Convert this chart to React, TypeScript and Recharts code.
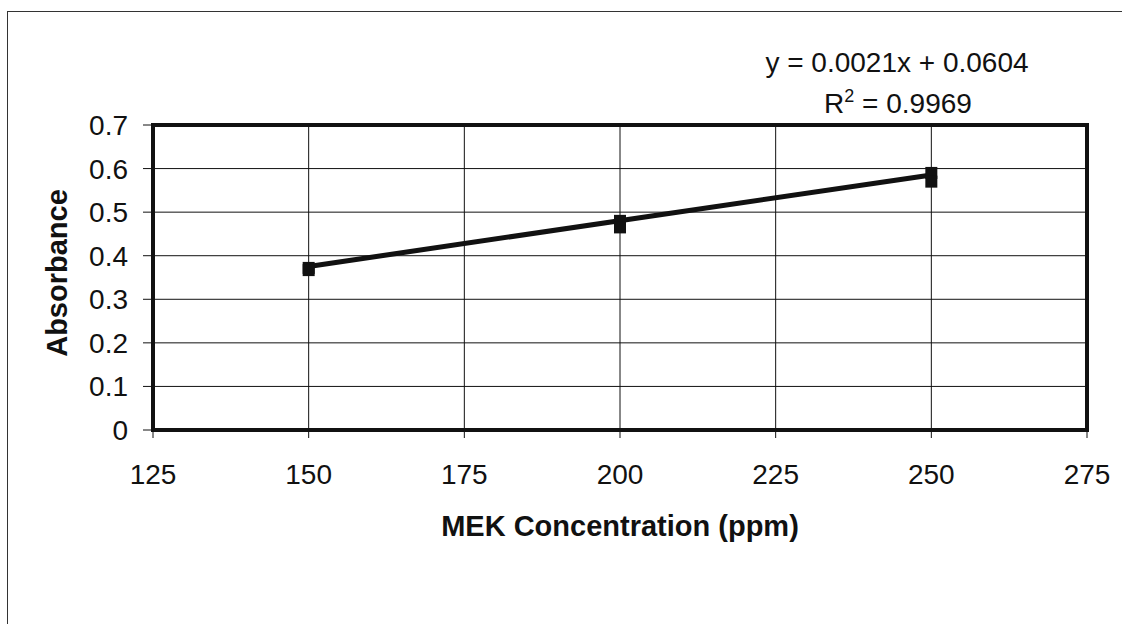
import {
  CartesianGrid,
  ReferenceArea,
  Scatter,
  ScatterChart,
  XAxis,
  YAxis,
} from "recharts";

// MEK 표준 검량선 — 농도(ppm)별 흡광도, 각 농도 2회 측정
const CONCENTRATION = [150, 150, 200, 200, 250, 250];
const ABSORBANCE = [0.372, 0.367, 0.48, 0.465, 0.59, 0.57];

// 선형 회귀 결과 (y = 0.0021x + 0.0604, R² = 0.9969)
const SLOPE = 0.0021;
const INTERCEPT = 0.0604;
const R_SQUARED = "0.9969";
const TREND_RANGE = [150, 250];

const X_TICKS = [125, 150, 175, 200, 225, 250, 275];
const Y_TICKS = [0, 0.1, 0.2, 0.3, 0.4, 0.5, 0.6, 0.7];

const FONT = "'Liberation Sans', Arial, sans-serif";
const INK = "#111";

const points = CONCENTRATION.map((x, i) => ({ x, y: ABSORBANCE[i] }));
const trend = TREND_RANGE.map((x) => ({ x, y: SLOPE * x + INTERCEPT }));

function SquareMarker(props: { cx?: number; cy?: number }) {
  const { cx = 0, cy = 0 } = props;
  return <rect x={cx - 6} y={cy - 6} width={12} height={12} fill={INK} />;
}

export default function App() {
  return (
    <div
      style={{
        position: "fixed",
        left: 0,
        top: 0,
        width: 1122,
        height: 624,
        overflow: "hidden",
        background: "#fff",
        fontFamily: FONT,
      }}
    >
      {/* 차트 바깥 테두리 */}
      <div
        style={{
          position: "absolute",
          left: 7,
          top: 11,
          width: 1140,
          height: 640,
          border: "1px solid #333",
        }}
      />
      <ScatterChart
        width={1122}
        height={624}
        margin={{ top: 125, right: 35, bottom: 134, left: 93 }}
        style={{ position: "absolute", left: 0, top: 0 }}
      >
        <CartesianGrid stroke={INK} strokeWidth={1} />
        <XAxis
          type="number"
          dataKey="x"
          domain={[125, 275]}
          ticks={X_TICKS}
          height={60}
          axisLine={false}
          tickSize={8}
          tickMargin={26}
          tickLine={{ stroke: INK }}
          tick={{ fontSize: 28, fill: INK, fontFamily: FONT }}
          interval={0}
        />
        <YAxis
          type="number"
          dataKey="y"
          domain={[0, 0.7]}
          ticks={Y_TICKS}
          width={60}
          axisLine={false}
          tickSize={10}
          tickMargin={15}
          tickLine={{ stroke: INK }}
          tick={{ fontSize: 28, fill: INK, fontFamily: FONT }}
          interval={0}
        />
        <ReferenceArea
          x1={125}
          x2={275}
          y1={0}
          y2={0.7}
          fill="none"
          fillOpacity={0}
          stroke={INK}
          strokeWidth={4}
        />
        <Scatter
          data={trend}
          line={{ stroke: INK, strokeWidth: 5 }}
          shape={() => null}
          isAnimationActive={false}
        />
        <Scatter data={points} shape={<SquareMarker />} isAnimationActive={false} />
      </ScatterChart>

      {/* 축 제목과 회귀식 */}
      <svg
        width={1122}
        height={624}
        style={{ position: "absolute", left: 0, top: 0, pointerEvents: "none" }}
        fontFamily={FONT}
        fill={INK}
      >
        <text x={897} y={72} fontSize={28} textAnchor="middle">
          y = {SLOPE.toFixed(4)}x + {INTERCEPT.toFixed(4)}
        </text>
        <text x={898} y={113} fontSize={28} textAnchor="middle">
          R<tspan dy={-11} fontSize={18}>2</tspan>
          <tspan dy={11}> = {R_SQUARED}</tspan>
        </text>
        <text x={620} y={536} fontSize={29} fontWeight="bold" textAnchor="middle">
          MEK Concentration (ppm)
        </text>
        <text
          x={67}
          y={273}
          fontSize={29}
          fontWeight="bold"
          textAnchor="middle"
          transform="rotate(-90 67 273)"
        >
          Absorbance
        </text>
      </svg>
    </div>
  );
}
